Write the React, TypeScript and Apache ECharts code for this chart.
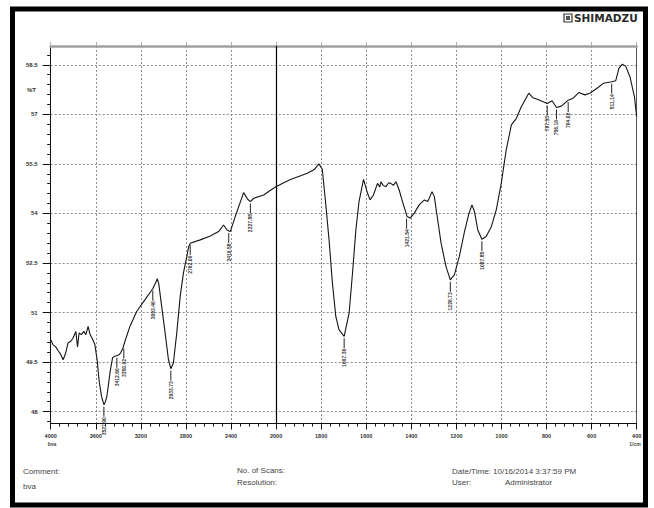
import React, { useEffect, useRef } from "react";
import * as echarts from "echarts";

// Wavenumber tick labels (axis is split: 4000-2000 at half scale, 2000-400 at full scale)
const X_TICK_LABELS = [4000, 3600, 3200, 2800, 2400, 2000, 1800, 1600, 1400, 1200, 1000, 800, 600, 400];
const Y_TICKS = [48, 49.5, 51, 52.5, 54, 55.5, 57, 58.5];

// Spectrum (wavenumber cm-1, %T)
const CURVE_W = [
  4000, 3980, 3955, 3935, 3914, 3890, 3869, 3846, 3822, 3801, 3777, 3762, 3748, 3727, 3706, 3688, 3668, 3653, 3629, 3608,
  3588, 3570, 3549, 3528, 3515, 3504, 3490, 3474, 3451, 3430, 3415, 3395, 3379, 3360, 3341, 3297, 3237, 3163, 3094, 3053,
  3040, 3023, 2985, 2955, 2934, 2911, 2881, 2851, 2822, 2792, 2775, 2762, 2673, 2584, 2510, 2466, 2435, 2406, 2353, 2288,
  2252, 2228, 2198, 2109, 2060, 2005, 1966, 1936, 1891, 1862, 1832, 1810, 1795, 1780, 1765, 1750, 1735, 1721, 1698, 1676,
  1661, 1646, 1632, 1612, 1594, 1583, 1568, 1550, 1540, 1535, 1525, 1513, 1500, 1491, 1480, 1468, 1454, 1439, 1419, 1405,
  1387, 1365, 1342, 1327, 1308, 1298, 1283, 1268, 1246, 1227, 1209, 1187, 1164, 1146, 1131, 1120, 1105, 1087, 1068, 1045,
  1023, 1001, 979, 956, 934, 912, 879, 860, 838, 797, 775, 756, 734, 704, 682, 657, 630, 608, 570, 548,
  511, 493, 479, 464, 449, 430, 410, 400,
];
const CURVE_T = [
  50.18, 50.03, 49.96, 49.85, 49.75, 49.57, 49.75, 50.08, 50.13, 50.23, 50.43, 49.96, 50.38, 50.33, 50.43, 50.33, 50.58, 50.36, 50.2, 50.03,
  49.57, 48.92, 48.46, 48.21, 48.3, 48.42, 48.75, 49.18, 49.63, 49.68, 49.69, 49.72, 49.78, 49.92, 50.13, 50.58, 51.03, 51.39, 51.72, 52.02,
  51.85, 51.39, 50.39, 49.57, 49.3, 49.48, 50.39, 51.49, 52.2, 52.7, 53.0, 53.1, 53.2, 53.32, 53.45, 53.65, 53.5, 53.45, 54.0, 54.63,
  54.43, 54.36, 54.46, 54.56, 54.68, 54.8, 54.93, 55.03, 55.14, 55.22, 55.32, 55.5, 55.34, 54.31, 53.2, 51.89, 50.88, 50.48, 50.28, 50.98,
  52.19, 53.5, 54.36, 55.03, 54.61, 54.41, 54.56, 54.91, 54.8, 54.96, 54.85, 54.81, 54.93, 54.91, 54.85, 54.96, 54.71, 54.36, 53.91, 53.86,
  54.01, 54.26, 54.41, 54.36, 54.66, 54.51, 53.81, 53.1, 52.39, 51.99, 52.14, 52.7, 53.45, 53.96, 54.26, 54.06, 53.5, 53.22, 53.3, 53.6,
  54.11, 54.91, 55.92, 56.68, 56.88, 57.23, 57.64, 57.5, 57.45, 57.33, 57.41, 57.21, 57.25, 57.43, 57.49, 57.66, 57.59, 57.64, 57.82, 57.94,
  57.99, 58.02, 58.39, 58.52, 58.46, 58.14, 57.53, 56.93,
];

// Peak markers
const PEAK_W = [3528, 3413, 3351, 3094, 2934, 2762, 2420, 2228, 1698, 1421, 1227, 1087, 797, 756, 704, 511];
const PEAK_T = [48.21, 49.69, 49.97, 51.72, 49.3, 53.1, 53.47, 54.36, 50.28, 53.9, 51.99, 53.22, 57.33, 57.21, 57.43, 57.99];
const PEAK_LABELS = [
  "3527.90", "3412.66", "3350.92", "3093.46", "2933.73", "2762.06", "2419.58", "2227.88",
  "1697.36", "1421.54", "1226.73", "1087.85", "797.53", "756.10", "704.02", "511.14",
];

const Y_MIN = 47.64;
const Y_MAX = 59.07;

// map wavenumber to the split-scale axis position
function toU(w: number): number {
  if (w >= 2000) return (4000 - w) / 400;
  return 5 + (2000 - w) / 200;
}

const Y_MINOR: number[] = [];
for (let v = 47.7; v < Y_MAX; v += 0.3) Y_MINOR.push(Math.round(v * 10) / 10);

const FONT = "Liberation Sans, Arial, sans-serif";

export default function App() {
  const ref = useRef<HTMLDivElement>(null);
  useEffect(() => {
    if (!ref.current) return;
    const chart = echarts.init(ref.current, undefined, { renderer: "svg" });
    const gridStyle = { color: "#8c8c8c", width: 1, type: [2, 2] as number[] };
    const option: any = {
      animation: false,
      backgroundColor: "#ffffff",
      grid: { left: 50.7, right: 17.3, top: 46, bottom: 84.5, containLabel: false },
      xAxis: [
        {
          type: "value",
          min: 0,
          max: 13,
          interval: 1,
          position: "bottom",
          axisLine: { show: true, onZero: false, lineStyle: { color: "#111", width: 1 } },
          axisTick: { show: true, length: 6, lineStyle: { color: "#111" } },
          minorTick: { show: true, splitNumber: 5, length: 3, lineStyle: { color: "#111" } },
          axisLabel: {
            fontSize: 5.5,
            fontFamily: FONT,
            fontWeight: "bold",
            color: "#333",
            margin: 9,
            formatter: (v: number) => String(X_TICK_LABELS[Math.round(v)] ?? ""),
          },
          splitLine: { show: true, lineStyle: gridStyle },
        },
        {
          type: "value",
          min: 0,
          max: 13,
          interval: 1,
          position: "top",
          axisLine: { show: true, onZero: false, lineStyle: { color: "#a0a0a0", width: 2.5 } },
          axisTick: { show: true, length: 4, lineStyle: { color: "#b0b0b0" } },
          axisLabel: { show: false },
          splitLine: { show: false },
        },
      ],
      yAxis: [
        {
          type: "value",
          min: Y_MIN,
          max: Y_MAX,
          position: "left",
          axisLine: { show: true, onZero: false, lineStyle: { color: "#111", width: 1 } },
          axisTick: { show: true, length: 8, customValues: Y_TICKS, lineStyle: { color: "#111" } },
          axisLabel: {
            customValues: Y_TICKS,
            fontSize: 6,
            fontFamily: FONT,
            fontWeight: "bold",
            color: "#333",
            margin: 13,
            formatter: (v: number) => String(Math.round(v * 10) / 10),
          },
          splitLine: { show: true, lineStyle: gridStyle },
        },
        {
          type: "value",
          min: Y_MIN,
          max: Y_MAX,
          position: "left",
          axisLine: { show: false },
          axisTick: { show: true, length: 3.5, customValues: Y_MINOR, lineStyle: { color: "#111" } },
          axisLabel: { show: false },
          splitLine: { show: false },
        },
        {
          type: "value",
          min: Y_MIN,
          max: Y_MAX,
          position: "right",
          axisLine: { show: true, onZero: false, lineStyle: { color: "#555", width: 1 } },
          axisTick: { show: false },
          axisLabel: { show: false },
          splitLine: { show: false },
        },
      ],
      series: [
        {
          type: "line",
          xAxisIndex: 0,
          yAxisIndex: 0,
          data: CURVE_W.map((w, i) => [toU(w), CURVE_T[i]]),
          showSymbol: false,
          symbol: "none",
          lineStyle: { color: "#151515", width: 1.1 },
          silent: true,
          z: 5,
          markLine: {
            silent: true,
            symbol: "none",
            label: { show: false },
            lineStyle: { color: "#000", width: 1.2, type: "solid" },
            data: [{ xAxis: toU(2000) }],
          },
        },
        {
          type: "custom",
          xAxisIndex: 0,
          yAxisIndex: 0,
          clip: false,
          silent: true,
          z: 6,
          data: PEAK_W.map((w, i) => [toU(w), PEAK_T[i]]),
          renderItem: (params: any, api: any) => {
            const p = api.coord([api.value(0), api.value(1)]);
            const label = PEAK_LABELS[params.dataIndex];
            return {
              type: "group",
              children: [
                {
                  type: "line",
                  shape: { x1: p[0], y1: p[1] + 2, x2: p[0], y2: p[1] + 12 },
                  style: { stroke: "#222", lineWidth: 1 },
                },
                {
                  type: "text",
                  x: p[0],
                  y: p[1] + 12.5,
                  rotation: Math.PI / 2,
                  style: {
                    text: label,
                    fontSize: 5,
                    fontFamily: FONT,
                    fontWeight: "bold",
                    fill: "#333",
                    align: "right",
                    verticalAlign: "middle",
                  },
                },
              ],
            };
          },
        },
      ],
      graphic: [
        {
          type: "rect",
          shape: { x: 12.5, y: 9, width: 633, height: 496 },
          style: { fill: "none", stroke: "#000", lineWidth: 5 },
          silent: true,
          z: 100,
        },
        // logo
        {
          type: "rect",
          shape: { x: 564, y: 14, width: 8, height: 8 },
          style: { fill: "none", stroke: "#333", lineWidth: 1.2 },
        },
        {
          type: "rect",
          shape: { x: 566, y: 16, width: 4, height: 4 },
          style: { fill: "#555" },
        },
        {
          type: "text",
          x: 574,
          y: 18,
          style: {
            text: "SHIMADZU",
            fontSize: 10.5,
            fontFamily: "DejaVu Sans, sans-serif",
            fontWeight: "bold",
            fill: "#2a2a2a",
            verticalAlign: "middle",
          },
        },
        {
          type: "text",
          x: 36,
          y: 90,
          style: { text: "%T", fontSize: 6, fontFamily: FONT, fontWeight: "bold", fill: "#333", align: "right", verticalAlign: "middle" },
        },
        {
          type: "text",
          x: 52,
          y: 444,
          style: { text: "bva", fontSize: 5, fontFamily: FONT, fontWeight: "bold", fill: "#444", align: "center", verticalAlign: "middle" },
        },
        {
          type: "text",
          x: 635,
          y: 443.5,
          style: { text: "1/cm", fontSize: 5, fontFamily: FONT, fontWeight: "bold", fill: "#444", align: "center", verticalAlign: "middle" },
        },
        {
          type: "text",
          x: 23,
          y: 471,
          style: { text: "Comment:", fontSize: 8, fontFamily: FONT, fill: "#444", verticalAlign: "middle" },
        },
        {
          type: "text",
          x: 23,
          y: 486,
          style: { text: "bva", fontSize: 8, fontFamily: FONT, fill: "#444", verticalAlign: "middle" },
        },
        {
          type: "text",
          x: 237,
          y: 470.5,
          style: { text: "No. of Scans:", fontSize: 8, fontFamily: FONT, fill: "#444", verticalAlign: "middle" },
        },
        {
          type: "text",
          x: 237,
          y: 482.5,
          style: { text: "Resolution:", fontSize: 8, fontFamily: FONT, fill: "#444", verticalAlign: "middle" },
        },
        {
          type: "text",
          x: 452,
          y: 471.5,
          style: { text: "Date/Time: 10/16/2014 3:37:59 PM", fontSize: 8, fontFamily: FONT, fill: "#444", verticalAlign: "middle" },
        },
        {
          type: "text",
          x: 452,
          y: 482.5,
          style: { text: "User:", fontSize: 8, fontFamily: FONT, fill: "#444", verticalAlign: "middle" },
        },
        {
          type: "text",
          x: 505,
          y: 482.5,
          style: { text: "Administrator", fontSize: 8, fontFamily: FONT, fill: "#444", verticalAlign: "middle" },
        },
      ],
    };
    chart.setOption(option);
    return () => chart.dispose();
  }, []);
  return (
    <div
      ref={ref}
      style={{ position: "absolute", left: 0, top: 0, width: 654, height: 508, background: "#fff" }}
    />
  );
}
